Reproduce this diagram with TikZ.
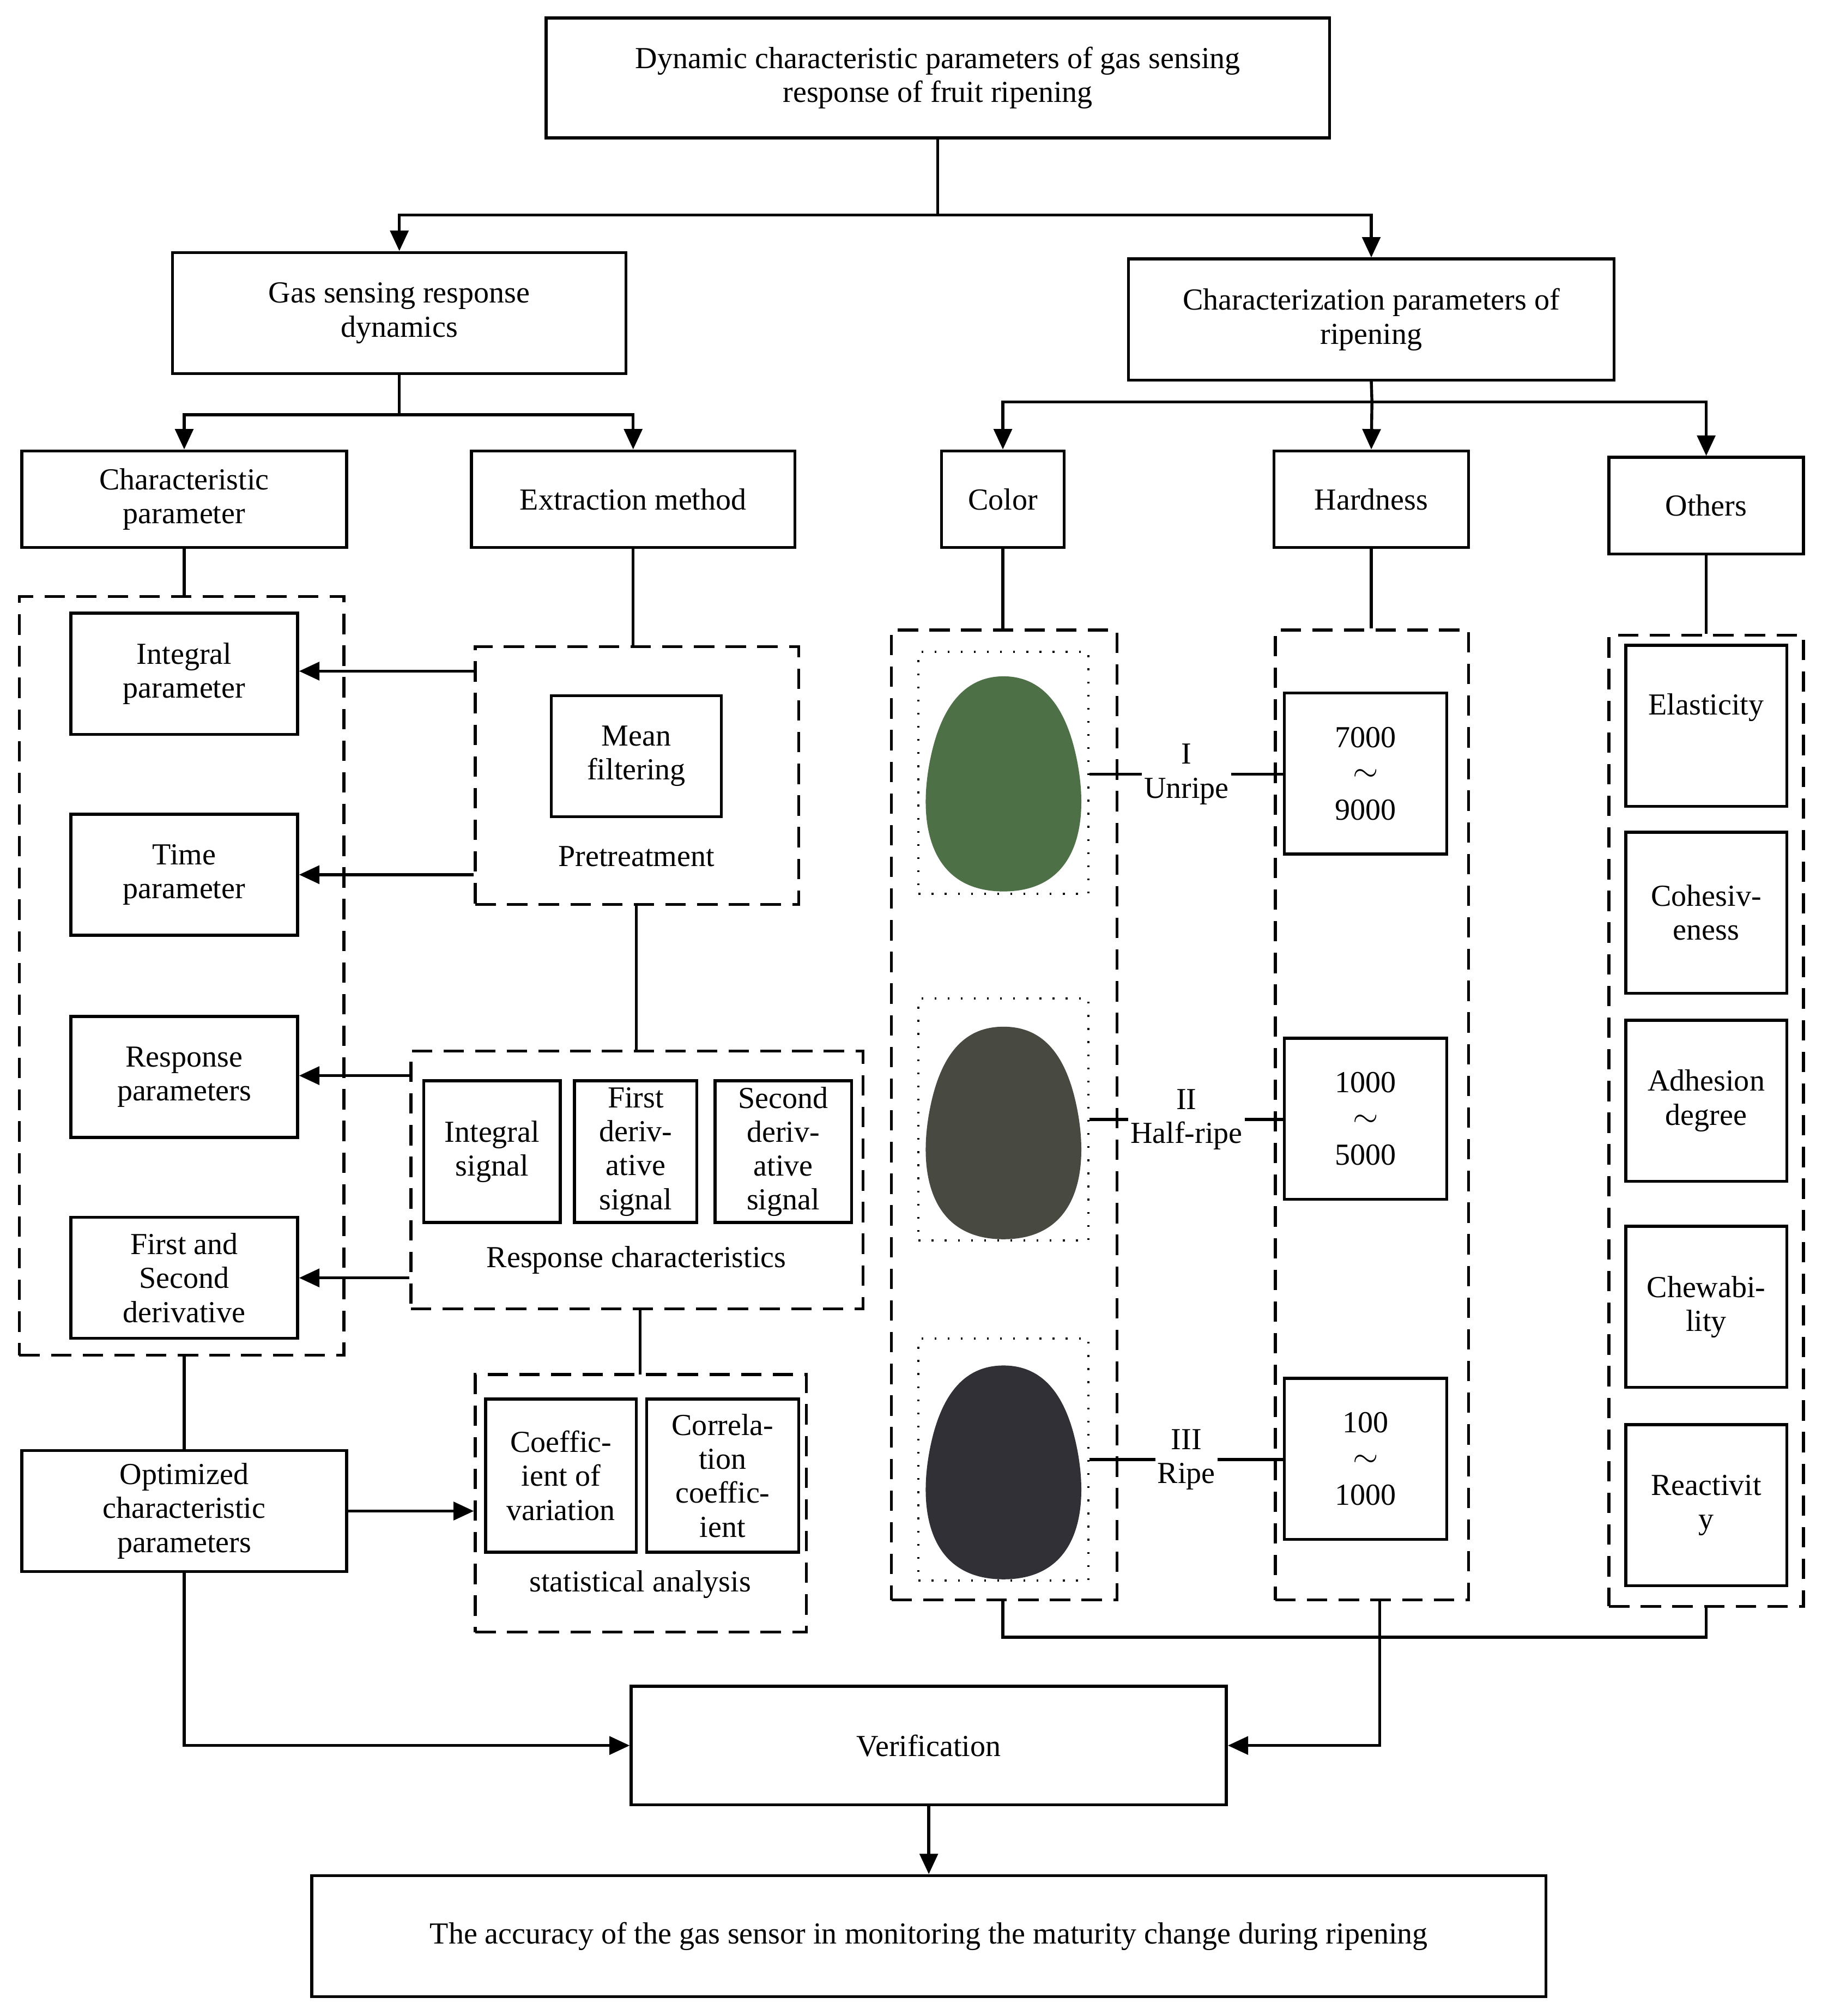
\documentclass[tikz,border=0pt]{standalone}
\usepackage{fontspec}
\setmainfont{Liberation Serif}
\usetikzlibrary{arrows.meta}
\definecolor{av1}{RGB}{78,112,70}
\definecolor{av2}{RGB}{72,74,66}
\definecolor{av3}{RGB}{48,48,54}
\begin{document}
\begin{tikzpicture}[x=0.02cm,y=-0.02cm,
  box/.style={draw,line width=1.3pt,inner sep=0pt,align=center,font=\fontsize{13.5}{15}\selectfont},
  dbox/.style={draw,line width=1.3pt,dash pattern=on 9pt off 5pt,inner sep=0pt},
  dotb/.style={draw,line width=1pt,dash pattern=on 0.8pt off 5pt,inner sep=0pt},
  lab/.style={font=\fontsize{13.5}{15}\selectfont,align=center,inner sep=1pt},
  ln/.style={line width=1.3pt},
  ar/.style={line width=1.3pt,-{Triangle[length=9pt,width=8pt]}}]
\useasboundingbox (0,0) rectangle (1414,1565);
\newcommand\bx[7][box]{\node[#1,minimum width={(#5-#3)*0.02cm},minimum height={(#6-#4)*0.02cm}] (#2) at ({(#3+#5)/2},{(#4+#6)/2}) {#7};}
\newcommand\egg[4]{\fill[#4] (#1,#3) .. controls ({#1-57},#3) and ({#1-67},{#3-52}) .. ({#1-57},{#3-102}) .. controls ({#1-47},{#3-152}) and ({#1-24},#2) .. (#1,#2) .. controls ({#1+24},#2) and ({#1+47},{#3-152}) .. ({#1+57},{#3-102}) .. controls ({#1+67},{#3-52}) and ({#1+57},#3) .. (#1,#3);}
\newcommand\tl{\raisebox{1pt}{$\sim$}}
% top
\bx{top}{424}{14}{1032}{107}{Dynamic characteristic parameters of gas sensing\\response of fruit ripening}
\bx{gas}{134}{196}{486}{290}{Gas sensing response\\dynamics}
\bx{char}{876}{201}{1253}{295}{Characterization parameters of\\ripening}
\coordinate (t1) at (728,167);
\draw[ln] (top.south) -- (t1);
\draw[ar] (t1) -| (gas.north);
\draw[ar] (t1) -| (char.north);
% left level
\bx{cp}{17}{350}{269}{425}{Characteristic\\parameter}
\bx{em}{366}{350}{617}{425}{Extraction method}
\coordinate (g1) at (310,322);
\draw[ln] (gas.south) -- (g1);
\draw[ar] (g1) -| (cp.north);
\draw[ar] (g1) -| (em.north);
% right level
\bx{col}{731}{350}{826}{425}{Color}
\bx{har}{989}{350}{1140}{425}{Hardness}
\bx{oth}{1249}{355}{1400}{430}{Others}
\coordinate (c1) at (1065,312);
\draw[ln] (char.south) -- (c1);
\draw[ar] (c1) -| (col.north);
\draw[ar] (c1) -- (har.north);
\draw[ar] (c1) -| (oth.north);
% left dashed
\bx[dbox]{ld}{15}{463}{267}{1052}{}
\draw[ln] (cp.south) -- (ld.north-|cp.south);
\bx{ip}{55}{476}{231}{570}{Integral\\parameter}
\bx{tp}{55}{632}{231}{726}{Time\\parameter}
\bx{rp}{55}{789}{231}{883}{Response\\parameters}
\bx{fs}{55}{945}{231}{1039}{First and\\Second\\derivative}
% pretreatment
\bx[dbox]{pre}{369}{502}{620}{702}{}
\draw[ln] (em.south) -- (pre.north-|em.south);
\bx{mf}{428}{540}{560}{634}{Mean\\filtering}
\node[lab] (prel) at (494,665) {Pretreatment};
\draw[ar] (pre.west|-0,521) -- (ip.east|-0,521);
\draw[ar] (pre.west|-0,679) -- (tp.east|-0,679);
% response char
\bx[dbox]{rc}{319}{816}{670}{1016}{}
\draw[ln] (494,702) -- (494,816);
\bx{is}{329}{839}{435}{949}{Integral\\signal}
\bx{fd}{446}{839}{541}{949}{First\\deriv-\\ative\\signal}
\bx{sd}{555}{839}{661}{949}{Second\\deriv-\\ative\\signal}
\node[lab] (rcl) at (494,978) {Response characteristics};
\draw[ar] (rc.west|-0,835) -- (rp.east|-0,835);
\draw[ar] (rc.west|-0,992) -- (fs.east|-0,992);
% statistical
\bx[dbox]{st}{369}{1067}{626}{1267}{}
\draw[ln] (497,1016) -- (497,1067);
\bx{cv}{377}{1086}{494}{1205}{Coeffic-\\ient of\\variation}
\bx{cc}{502}{1086}{620}{1205}{Correla-\\tion\\coeffic-\\ient}
\node[lab] (stl) at (497,1230) {statistical analysis};
% optimized
\bx{op}{17}{1126}{269}{1220}{Optimized\\characteristic\\parameters}
\draw[ln] (143,1052) -- (op.north-|143,0);
\draw[ar] (op.east) -- (st.west|-op.east);
% verification
\bx{ver}{490}{1309}{952}{1401}{Verification}
\bx{acc}{242}{1456}{1200}{1550}{The accuracy of the gas sensor in monitoring the maturity change during ripening}
\draw[ar] (143,1220) |- (ver.west);
\draw[ar] (ver.south) -- (acc.north-|ver.south);
% color column
\bx[dbox]{cd}{692}{489}{867}{1242}{}
\draw[ln] (col.south) -- (cd.north-|col.south);
\bx[dotb]{a1}{713}{506}{845}{694}{}
\bx[dotb]{a2}{713}{775}{845}{963}{}
\bx[dotb]{a3}{713}{1039}{845}{1227}{}
\egg{779}{525}{692}{av1}
\egg{779}{797}{962}{av2}
\egg{779}{1060}{1226}{av3}
% hardness column
\bx[dbox]{hd}{990}{489}{1140}{1242}{}
\draw[ln] (har.south) -- (hd.north-|har.south);
\bx{h1}{997}{538}{1123}{663}{7000\\[1pt]\tl\\[1pt]9000}
\bx{h2}{997}{806}{1123}{931}{1000\\[1pt]\tl\\[1pt]5000}
\bx{h3}{997}{1070}{1123}{1195}{100\\[1pt]\tl\\[1pt]1000}
\draw[ln] (a1.east|-0,601) -- (h1.west|-0,601);
\draw[ln] (a2.east|-0,869) -- (h2.west|-0,869);
\draw[ln] (a3.east|-0,1133) -- (h3.west|-0,1133);
\node[lab,fill=white] (l1) at (921,601) {I\\Unripe};
\node[lab,fill=white] (l2) at (921,869) {II\\Half-ripe};
\node[lab,fill=white] (l3) at (921,1133) {III\\Ripe};
% others column
\bx[dbox]{od}{1249}{493}{1400}{1247}{}
\draw[ln] (oth.south) -- (od.north-|oth.south);
\bx{o1}{1262}{501}{1387}{626}{Elasticity\\[4pt]}
\bx{o2}{1262}{646}{1387}{771}{Cohesiv-\\eness}
\bx{o3}{1262}{792}{1387}{917}{Adhesion\\degree}
\bx{o4}{1262}{952}{1387}{1077}{Chewabi-\\lity}
\bx{o5}{1262}{1106}{1387}{1231}{Reactivit\\y}
% bottom collector
\coordinate (b1) at (1071,1271);
\draw[ln] (cd.south-|col.south) |- (b1);
\draw[ln] (od.south-|oth.south) |- (b1);
\draw[ar] (1071,1242) |- (ver.east);
\end{tikzpicture}
\end{document}
